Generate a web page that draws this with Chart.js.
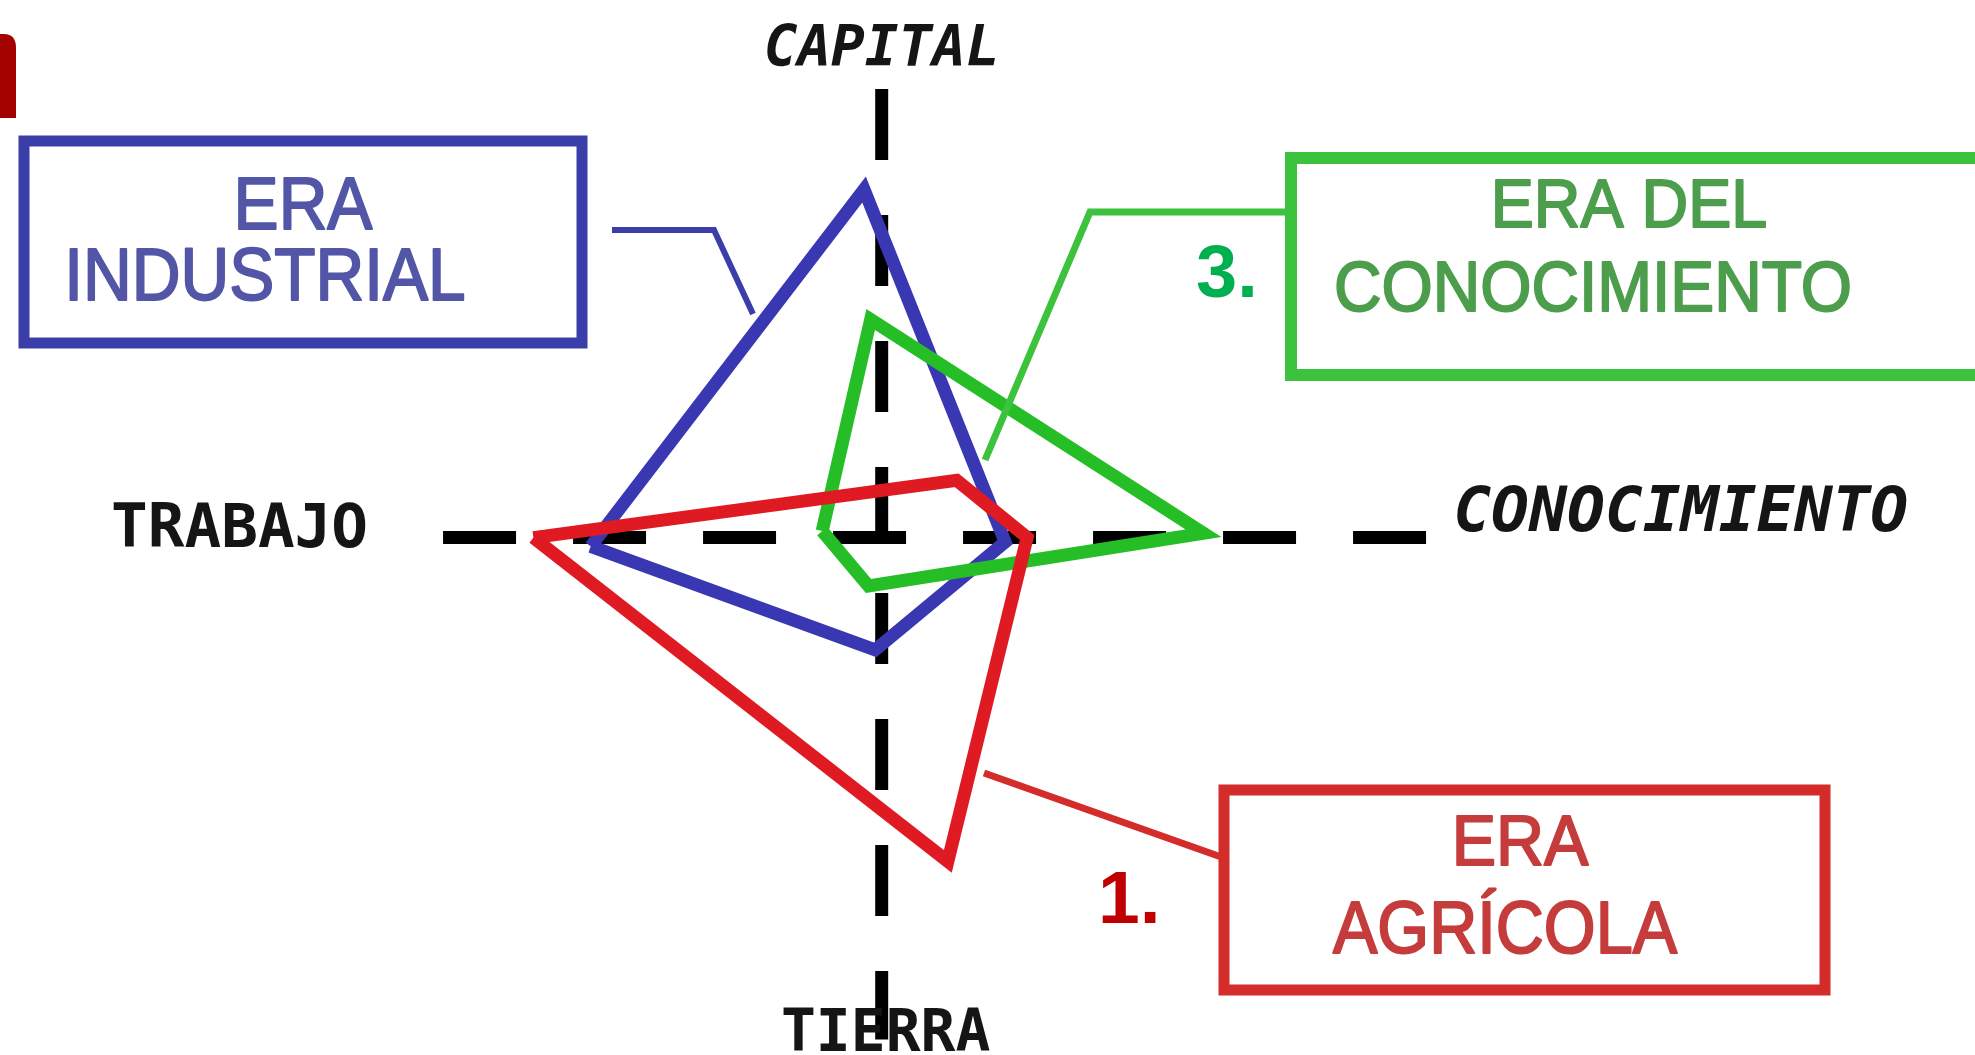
<!DOCTYPE html>
<html><head><meta charset="utf-8">
<script src="https://cdn.jsdelivr.net/npm/chart.js@4"></script>
<style>html,body{margin:0;padding:0;background:#fff;overflow:hidden}#wrap{width:1975px;height:1055px}</style>
</head><body><div id="wrap"><canvas id="c" width="1975" height="1055"></canvas></div>
<script>
// Axis names (up, right, down, left)
const ejes = ['CAPITAL', 'CONOCIMIENTO', 'TIERRA', 'TRABAJO'];
const eras = ['ERA AGRÍCOLA', 'ERA INDUSTRIAL', 'ERA DEL CONOCIMIENTO'];
// x: Trabajo (-) / Conocimiento (+), y: Tierra (-) / Capital (+)
const agricolaX = [-7.9, 1.7, 3.3, 1.5, -7.9];
const agricolaY = [0.0, 1.3, 0.0, -7.35, 0.0];
const industrialX = [-6.6, -0.4, 2.8, -0.15, -6.6];
const industrialY = [-0.2, 7.9, -0.1, -2.55, -0.2];
const conocimientoX = [-1.35, -0.25, 7.3, -0.3, -1.35];
const conocimientoY = [0.15, 4.95, 0.1, -1.1, 0.15];
const ejeHorizontal = [-9.95, 12.35];   // Trabajo .. Conocimiento
const ejeVertical = [10.18, -11.39];    // Capital .. Tierra

const pts = (xs, ys) => xs.map((x, i) => ({x, y: ys[i]}));

function txt(ctx, s, x, y, font, color, sx, align, stroke) {
  ctx.save();
  ctx.translate(x, y);
  ctx.scale(sx, 1);
  ctx.font = font;
  ctx.fillStyle = color;
  ctx.textAlign = align || 'center';
  ctx.textBaseline = 'alphabetic';
  ctx.fillText(s, 0, 0);
  if (stroke) { ctx.strokeStyle = color; ctx.lineWidth = stroke; ctx.lineJoin = 'round'; ctx.strokeText(s, 0, 0); }
  ctx.restore();
}
function poly(ctx, p, color, w) {
  ctx.save();
  ctx.strokeStyle = color; ctx.lineWidth = w; ctx.lineJoin = 'miter'; ctx.lineCap = 'butt';
  ctx.beginPath(); ctx.moveTo(p[0][0], p[0][1]);
  for (let i = 1; i < p.length; i++) ctx.lineTo(p[i][0], p[i][1]);
  ctx.stroke(); ctx.restore();
}

const deco = {
  id: 'deco',
  beforeDraw(chart) {
    const ctx = chart.ctx;
    ctx.save(); ctx.fillStyle = '#ffffff'; ctx.fillRect(0, 0, chart.width, chart.height); ctx.restore();
  },
  afterDraw(chart) {
    const ctx = chart.ctx, sx = chart.scales.x, sy = chart.scales.y;
    // corner tab
    ctx.save();
    ctx.fillStyle = '#a30000';
    ctx.beginPath();
    ctx.moveTo(0, 34); ctx.lineTo(4, 34); ctx.quadraticCurveTo(16, 34, 16, 48);
    ctx.lineTo(16, 118); ctx.lineTo(0, 118); ctx.closePath(); ctx.fill();
    ctx.restore();

    // axis labels
    const cx = sx.getPixelForValue(0);
    const mono = '"DejaVu Sans Mono"';
    txt(ctx, ejes[0], cx, 66, 'italic bold 56px ' + mono, '#151515', 1, 'center');
    txt(ctx, ejes[1], sx.getPixelForValue(ejeHorizontal[1]) + 27, 531, 'italic bold 63px ' + mono, '#151515', 1, 'left');
    txt(ctx, ejes[2], cx + 4, 1051, 'bold 58px ' + mono, '#151515', 1, 'center');
    txt(ctx, ejes[3], sx.getPixelForValue(ejeHorizontal[0]) - 75, 547, 'bold 61px ' + mono, '#151515', 1, 'right');

    const sans = '"Liberation Sans", Arial, sans-serif';
    // Industrial box
    const cb = '#3b3da8';
    ctx.save(); ctx.strokeStyle = cb; ctx.lineWidth = 11; ctx.strokeRect(24, 141, 558, 202); ctx.restore();
    txt(ctx, 'ERA', 303, 229, '75px ' + sans, '#5356a6', 0.9, 'center', 2);
    txt(ctx, 'INDUSTRIAL', 265, 300, '75px ' + sans, '#5356a6', 0.9, 'center', 2);
    poly(ctx, [[612, 230], [714, 230], [753, 314]], cb, 6);

    // Conocimiento box
    const cg = '#3cc23c';
    poly(ctx, [[2000, 158], [1291, 158], [1291, 375], [2000, 375]], cg, 12);
    txt(ctx, 'ERA DEL', 1629, 227, '68px ' + sans, '#4c9e4c', 0.95, 'center', 2);
    txt(ctx, 'CONOCIMIENTO', 1593, 311, '70px ' + sans, '#4c9e4c', 0.94, 'center', 2);
    poly(ctx, [[1286, 212], [1090, 212], [985, 460]], cg, 7);
    txt(ctx, '3.', 1196, 297, 'bold 74px ' + sans, '#00b050', 1, 'left');

    // Agricola box
    const cr = '#d42b2b';
    ctx.save(); ctx.strokeStyle = cr; ctx.lineWidth = 11; ctx.strokeRect(1224, 790, 601, 200); ctx.restore();
    txt(ctx, 'ERA', 1520, 865, '70px ' + sans, '#c43c3c', 0.95, 'center', 2);
    txt(ctx, 'AGRÍCOLA', 1505, 953, '74px ' + sans, '#c43c3c', 0.9, 'center', 2);
    poly(ctx, [[984, 773], [1224, 858]], cr, 7);
    txt(ctx, '1.', 1098, 923, 'bold 75px ' + sans, '#c00000', 1, 'left');
  }
};

new Chart(document.getElementById('c'), {
  type: 'scatter',
  data: {
    datasets: [
      { label: eras[0], data: pts(agricolaX, agricolaY), borderColor: '#e01a22', borderWidth: 13 },
      { label: eras[2], data: pts(conocimientoX, conocimientoY), borderColor: '#26be26', borderWidth: 13 },
      { label: eras[1], data: pts(industrialX, industrialY), borderColor: '#3a37b2', borderWidth: 13 },
      { label: 'h', data: pts(ejeHorizontal, [0, 0]), borderColor: '#000', borderWidth: 13, borderDash: [73, 57] },
      { label: 'v', data: pts([0, 0], ejeVertical), borderColor: '#000', borderWidth: 13, borderDash: [71, 55] }
    ].map(d => Object.assign({ showLine: true, pointRadius: 0, pointHoverRadius: 0, fill: false, tension: 0,
      borderJoinStyle: 'miter', borderCapStyle: 'butt' }, d))
  },
  options: {
    responsive: false, animation: false, devicePixelRatio: 1,
    layout: { padding: 0 },
    plugins: { legend: { display: false }, tooltip: { enabled: false } },
    events: [],
    scales: {
      x: { type: 'linear', display: false, min: -20, max: 24.8 },
      y: { type: 'linear', display: false, min: -11.743, max: 12.2 }
    }
  },
  plugins: [deco]
});
</script>
</body></html>
